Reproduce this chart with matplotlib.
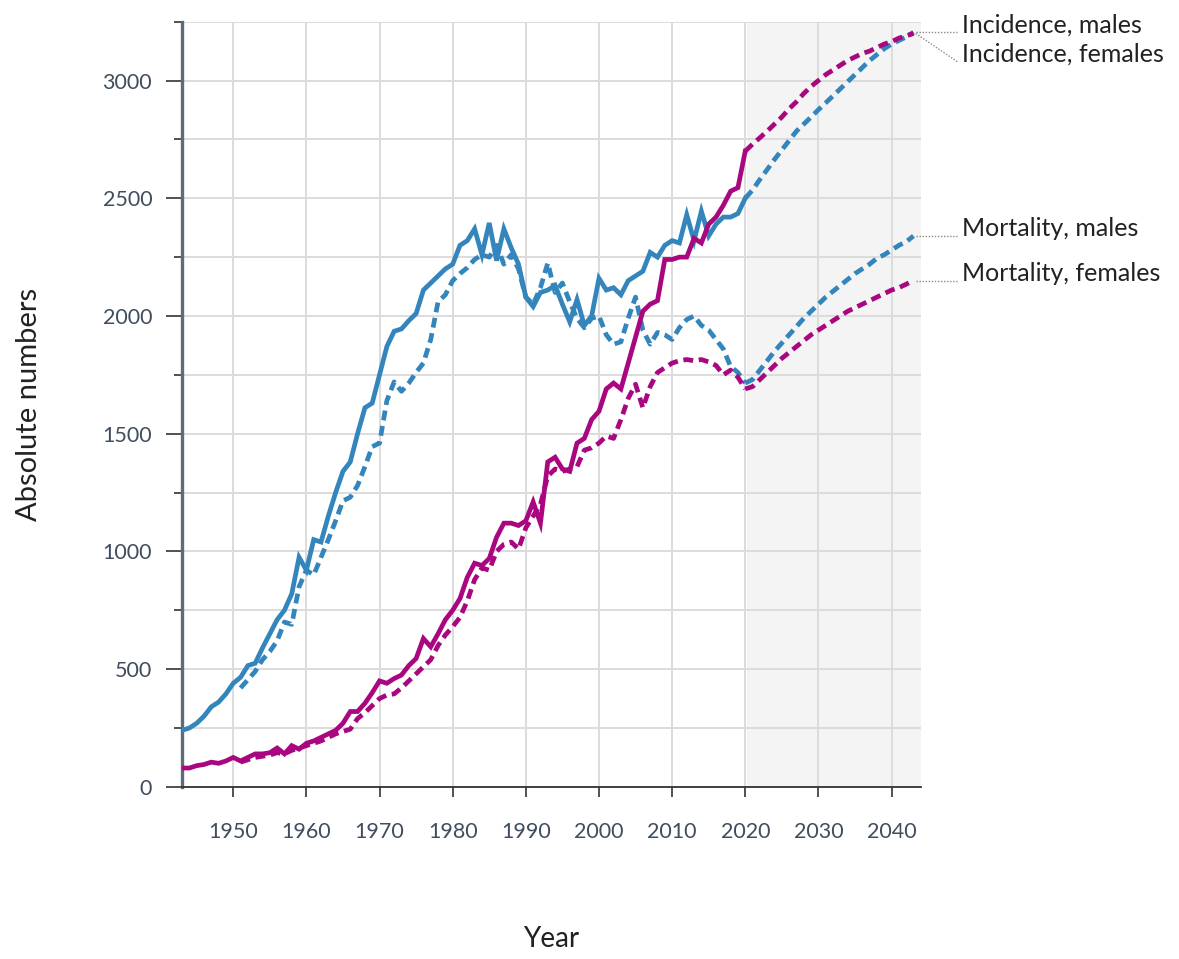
import matplotlib
matplotlib.use("Agg")
import matplotlib.pyplot as plt
from matplotlib.ticker import MultipleLocator, FixedLocator

plt.rcParams['font.family'] = ['Lato', 'DejaVu Sans']

# Observed series
years_obs = list(range(1943, 2021))
incidence_males = [
    240, 250, 270, 300, 340, 360, 395, 440, 465, 515,
    525, 590, 650, 710, 750, 820, 975, 920, 1050, 1040,
    1150, 1250, 1340, 1380, 1500, 1610, 1630, 1750, 1870, 1935,
    1945, 1980, 2010, 2110, 2140, 2170, 2200, 2220, 2300, 2320,
    2370, 2260, 2395, 2235, 2370, 2290, 2220, 2080, 2040, 2100,
    2110, 2130, 2050, 1975, 2070, 1960, 2000, 2160, 2110, 2120,
    2090, 2150, 2170, 2190, 2270, 2250, 2300, 2320, 2310, 2430,
    2320, 2445, 2340, 2390, 2420, 2420, 2435, 2500,
]
incidence_females = [
    80, 80, 90, 95, 105, 100, 110, 125, 110, 125,
    140, 140, 145, 165, 140, 175, 160, 185, 195, 210,
    225, 240, 270, 320, 320, 355, 400, 450, 440, 460,
    475, 515, 545, 630, 595, 650, 710, 750, 800, 890,
    950, 940, 970, 1060, 1120, 1120, 1110, 1130, 1210, 1120,
    1380, 1400, 1350, 1340, 1460, 1480, 1560, 1595, 1690, 1715,
    1690, 1800, 1910, 2020, 2050, 2065, 2240, 2240, 2250, 2250,
    2330, 2310, 2390, 2420, 2470, 2530, 2545, 2700,
]

years_mort = list(range(1951, 2021))
mortality_males = [
    420, 455, 490, 540, 575, 620, 700, 690, 850, 920,
    900, 975, 1050, 1130, 1215, 1230, 1280, 1360, 1445, 1460,
    1640, 1720, 1680, 1715, 1760, 1800, 1900, 2060, 2090, 2150,
    2180, 2205, 2240, 2260, 2250, 2300, 2220, 2260, 2200, 2080,
    2050, 2120, 2225, 2100, 2140, 2060, 1990, 1950, 1990, 2000,
    1920, 1880, 1890, 1990, 2080, 1940, 1880, 1930, 1920, 1900,
    1950, 1985, 2000, 1960, 1940, 1900, 1860, 1785, 1760, 1715,
]
mortality_females = [
    105, 115, 125, 130, 135, 145, 140, 155, 165, 175,
    185, 195, 210, 225, 235, 245, 290, 315, 345, 375,
    390, 395, 420, 450, 480, 510, 540, 600, 645, 680,
    720, 790, 880, 930, 920, 1000, 1030, 1040, 1010, 1100,
    1150, 1200, 1320, 1350, 1340, 1350, 1360, 1430, 1440, 1460,
    1490, 1480, 1560, 1650, 1710, 1610, 1700, 1760, 1780, 1800,
    1810, 1815, 1810, 1815, 1805, 1790, 1750, 1770, 1740, 1690,
]

# Projections
years_proj = list(range(2020, 2044))
proj_incidence_males = [
    2500, 2535, 2580, 2622, 2665, 2705, 2745, 2785, 2815, 2845,
    2876, 2905, 2935, 2965, 2995, 3025, 3055, 3085, 3110, 3135,
    3155, 3170, 3185, 3205,
]
proj_incidence_females = [
    2700, 2730, 2757, 2785, 2815, 2845, 2880, 2910, 2945, 2975,
    3000, 3025, 3045, 3065, 3085, 3100, 3115, 3125, 3140, 3155,
    3165, 3180, 3190, 3200,
]
proj_mortality_males = [
    1715, 1730, 1770, 1810, 1850, 1885, 1920, 1955, 1990, 2020,
    2050, 2080, 2105, 2130, 2155, 2180, 2200, 2220, 2245, 2260,
    2280, 2300, 2315, 2340,
]
proj_mortality_females = [
    1690, 1700, 1730, 1760, 1790, 1820, 1845, 1870, 1895, 1920,
    1940, 1960, 1980, 2000, 2020, 2035, 2050, 2065, 2080, 2095,
    2110, 2120, 2135, 2150,
]

series_labels = ["Incidence, males", "Incidence, females",
                 "Mortality, males", "Mortality, females"]
x_ticks = [1950, 1960, 1970, 1980, 1990, 2000, 2010, 2020, 2030, 2040]
y_ticks = [0, 500, 1000, 1500, 2000, 2500, 3000]

BLUE = "#3385bc"
MAGENTA = "#a9077f"
TICK_COLOR = "#3f4d5e"
DASH = (2.1, 1.2)

fig = plt.figure(figsize=(11.79, 9.59), dpi=100)
ax = fig.add_axes([0.1544, 0.1795, 0.7810 - 0.1544, 0.9774 - 0.1795])

ax.axvspan(2020.25, 2044, color="#f4f4f4", zorder=0.1, lw=0)

lw = 3.4
ax.plot(years_obs, incidence_males, color=BLUE, lw=lw, solid_joinstyle="miter", zorder=3)
ax.plot(years_obs, incidence_females, color=MAGENTA, lw=lw, solid_joinstyle="miter", zorder=3)
ax.plot(years_mort, mortality_males, color=BLUE, lw=lw, dashes=DASH, zorder=2)
ax.plot(years_mort, mortality_females, color=MAGENTA, lw=lw, dashes=DASH, zorder=2)
ax.plot(years_proj, proj_incidence_males, color=BLUE, lw=lw, dashes=DASH, zorder=2)
ax.plot(years_proj, proj_incidence_females, color=MAGENTA, lw=lw, dashes=DASH, zorder=2)
ax.plot(years_proj, proj_mortality_males, color=BLUE, lw=lw, dashes=DASH, zorder=2)
ax.plot(years_proj, proj_mortality_females, color=MAGENTA, lw=lw, dashes=DASH, zorder=2)

ax.set_xlim(1943, 2044)
ax.set_ylim(0, 3250)

ax.xaxis.set_major_locator(FixedLocator(x_ticks))
ax.yaxis.set_major_locator(FixedLocator(y_ticks))
ax.yaxis.set_minor_locator(MultipleLocator(250))

ax.set_axisbelow(True)
ax.grid(which="major", axis="x", color="#dcdcdc", lw=1.4)
ax.grid(which="both", axis="y", color="#dcdcdc", lw=1.4)

for side in ("top", "right"):
    ax.spines[side].set_visible(False)
ax.spines["left"].set_color("#5d6b7a")
ax.spines["left"].set_linewidth(2.4)
ax.spines["bottom"].set_color("#333333")
ax.spines["bottom"].set_linewidth(1.3)

ax.tick_params(axis="y", which="major", length=11.5, width=1.2, color="#333333",
               labelsize=15.5, labelcolor=TICK_COLOR, pad=10)
ax.tick_params(axis="y", which="minor", length=6, width=1.2, color="#333333")
ax.tick_params(axis="x", which="major", length=7, width=1.2, color="#333333",
               labelsize=15.5, labelcolor=TICK_COLOR, pad=18)

ax.set_xlabel("Year", fontsize=20, color="#222222", va="center")
ax.set_ylabel("Absolute numbers", fontsize=21, color="#222222", va="center")
ax.xaxis.set_label_coords(0.5, -0.199)
ax.yaxis.set_label_coords(-0.207, 0.5)

# Right-hand labels with dotted leader lines
ends = [
    (proj_incidence_males[-1], proj_incidence_males[-1]),
    (proj_incidence_females[-1], proj_incidence_females[-1] - 120),
    (proj_mortality_males[-1], proj_mortality_males[-1]),
    (proj_mortality_females[-1], proj_mortality_females[-1]),
]
x_end = years_proj[-1]
x_lead = 2049.0
x_text = 2049.6
for label, (y_end, y_lab) in zip(series_labels, ends):
    ax.plot([x_end + 0.3, x_lead], [y_end, y_lab], color="#8a8a8a", lw=1.0,
            ls=(0, (1, 1.2)), clip_on=False, zorder=4)
    ax.text(x_text, y_lab, label, ha="left", va="baseline", fontsize=18,
            color="#222222", clip_on=False)

fig.savefig("out.png", dpi=100)
